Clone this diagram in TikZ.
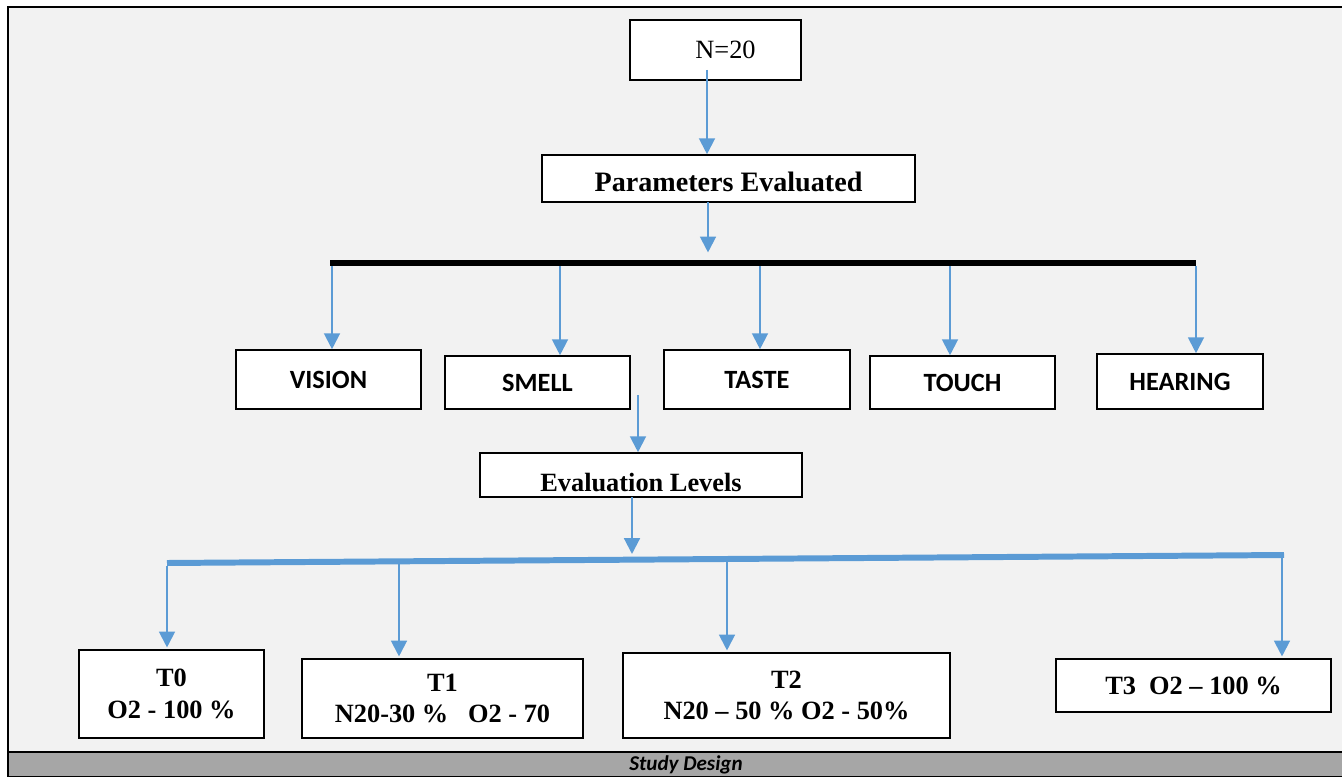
\documentclass[tikz,border=0pt]{standalone}
\usepackage{fontspec}
\setmainfont{Liberation Serif}
\newfontfamily\calib{Carlito}
\usetikzlibrary{positioning,calc}
\usetikzlibrary{arrows.meta}
\definecolor{FlowBlue}{RGB}{91,155,213}
\definecolor{PageGray}{RGB}{242,242,242}
\definecolor{BarGray}{RGB}{166,166,166}
\tikzset{
	box/.style={draw=black,fill=white,line width=0.9pt,inner sep=0pt,align=center},
	sz/.style 2 args={minimum width=#1*0.02cm,minimum height=#2*0.02cm},
	sense/.style={box,font=\calib\bfseries\fontsize{15}{18}\selectfont},
	head/.style={box,font=\bfseries\fontsize{16}{19}\selectfont},
	level/.style={box,font=\bfseries\fontsize{15}{18}\selectfont},
	arr/.style={draw=FlowBlue,line width=1.2pt,-{Triangle[width=9pt,length=9pt]}},
	bar/.style={line width=3.4pt},
}
\begin{document}
\begin{tikzpicture}[x=0.02cm,y=-0.02cm]
	\useasboundingbox (0,0) rectangle (1343,777);
	% page and caption strip
	\fill[PageGray] (8,7) rectangle (1342,752);
	\fill[BarGray] (8,752) rectangle (1342,777);
	\draw[line width=1.1pt] (1342,777) -- (8,777) -- (8,7) -- (1342,7);
	\draw[line width=1.1pt] (8,752) -- (1342,752);
	\node[font=\calib\bfseries\itshape\fontsize{12}{14}\selectfont] (cap) at (686,765) {Study Design};

	% boxes
	\node[box,sz={171}{60},font=\fontsize{15}{18}\selectfont] (n20) at (715.5,50) {\hspace{0.4cm}N=20};
	\node[head,sz={373}{47}] (params) at (728.5,178.5) {\raisebox{-0.07cm}[\height][\depth]{Parameters Evaluated}};
	\node[sense,sz={185}{59}] (vision) at (328.5,379.5) {VISION};
	\node[sense,sz={185}{53}] (smell) at (537.5,382.5) {SMELL};
	\node[sense,sz={186}{59}] (taste) at (757,379.5) {TASTE};
	\node[sense,sz={185}{53}] (touch) at (962.5,382.5) {TOUCH};
	\node[sense,sz={166}{55}] (hearing) at (1180,381.5) {HEARING};
	\node[head,sz={322}{44},font=\bfseries\fontsize{15}{18}\selectfont] (evl) at (641,475) {\raisebox{-0.15cm}[\height][\depth]{Evaluation Levels}};
	\node[level,sz={185}{88}] (t0) at (171.5,694) {T0\\O2 - 100 \%};
	\node[level,sz={281}{79}] (t1) at (442.5,698.5) {T1\\N20-30 \%\ \ \ O2 - 70};
	\node[level,sz={327}{85}] (t2) at (786.5,695.5) {T2\\N20 – 50 \% O2 - 50\%};
	\node[level,sz={275}{53}] (t3) at (1193.5,685.5) {T3\ \ O2 – 100 \%};

	% bars
	\coordinate (pbL) at (330,263); \coordinate (pbR) at (1196,263);
	\draw[bar,black] (pbL) -- (pbR);
	\coordinate (lbL) at (167,563); \coordinate (lbR) at (1284,555);
	\draw[bar,FlowBlue] (lbL) -- (lbR);

	% arrows
	\coordinate (s0) at (707,70);
	\draw[arr] (s0) -- (s0 |- params.north);
	\coordinate (s1) at (708,202);
	\draw[arr,shorten >=6pt] (s1) -- (s1 |- pbL);
	\foreach \x/\b in {332/vision,560/smell,760/taste,950/touch,1196/hearing}{
		\coordinate (d-\b) at (\x,266);
		\draw[arr] (d-\b) -- (d-\b |- \b.north);
	}
	\coordinate (s2) at (638,395);
	\draw[arr] (s2) -- (s2 |- evl.north);
	\coordinate (s3) at (632,497);
	\draw[arr] (s3) -- (632,554);
	\foreach \x/\y/\b in {167/566/t0,399/564/t1,727/562/t2,1282/558/t3}{
		\coordinate (e-\b) at (\x,\y);
		\draw[arr,shorten >=1pt] (e-\b) -- (e-\b |- \b.north);
	}
\end{tikzpicture}
\end{document}
